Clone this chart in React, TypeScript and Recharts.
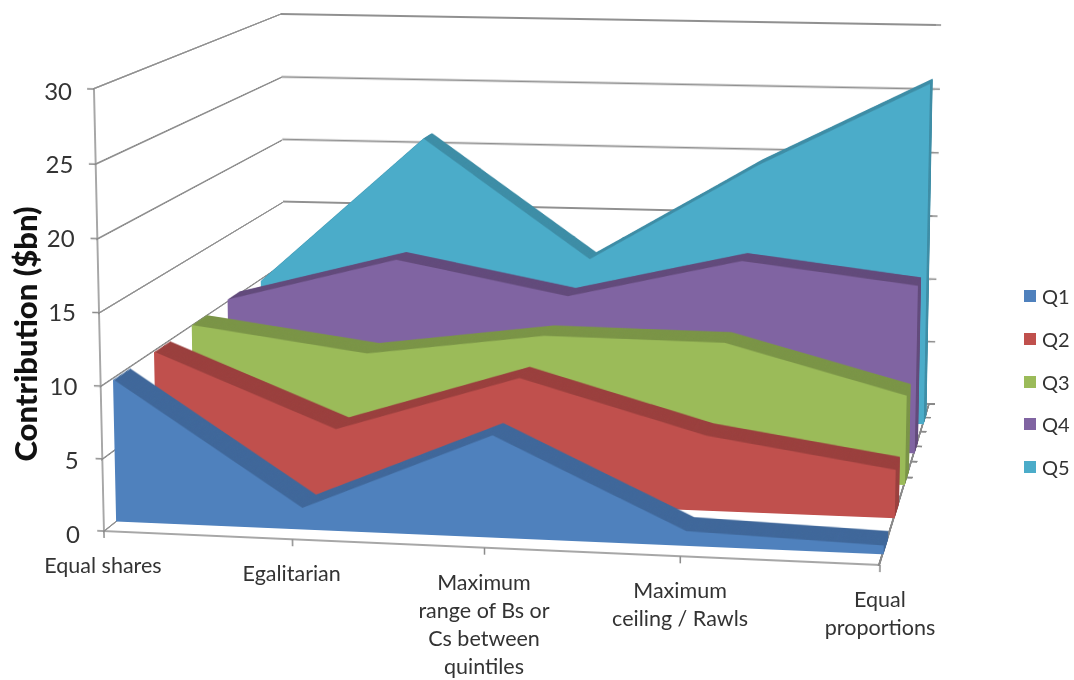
import { ReactNode } from 'react';
import { AreaChart, Area, XAxis, YAxis, CartesianGrid, Legend, LineChart, Line } from 'recharts';

const categories = ['Equal shares', 'Egalitarian', 'Maximum range of Bs or Cs between quintiles', 'Maximum ceiling / Rawls', 'Equal proportions'];
const categoryLines = [
  ['Equal shares'],
  ['Egalitarian'],
  ['Maximum', 'range of Bs or', 'Cs between', 'quintiles'],
  ['Maximum', 'ceiling / Rawls'],
  ['Equal', 'proportions'],
];
const seriesNames = ['Q1', 'Q2', 'Q3', 'Q4', 'Q5'];
const q1 = [9.9, 1.5, 7.0, 1.0, 0.6];
const q2 = [9.9, 4.8, 8.9, 5.3, 3.4];
const q3 = [10.0, 8.3, 10.0, 9.9, 6.5];
const q4 = [10.1, 13.5, 11.1, 14.1, 12.6];
const q5 = [9.8, 21.3, 12.2, 19.8, 26.3];
const valueTicks = [0, 5, 10, 15, 20, 25, 30];
const depthTicks = [0, 1, 2, 3, 4, 5];
const depthLabelHeights = [18, 54, 88, 119, 148];

const faceColors = ['#4f81bd', '#c0504d', '#9bbb59', '#8064a2', '#4bacc9'];
const topColors = ['#3f679a', '#9a3f3d', '#7a9446', '#624a7b', '#3d8da6'];

const table = categories.map((name, i) => ({
  name,
  Q1: q1[i],
  Q2: q2[i],
  Q3: q3[i],
  Q4: q4[i],
  Q5: q5[i],
}));

// the box of the 3d chart, as it lands on the page
type Pt = [number, number];
type Quad = [Pt, Pt, Pt, Pt]; // top left, top right, bottom right, bottom left
const FRONT: Quad = [[93, 89], [889, 106], [880, 566], [103, 532]];
const BACK: Quad = [[281, 14], [937, 25], [930, 404], [285, 386]];

const seriesDepth = [0.072, 0.295, 0.5, 0.695, 0.875];
const ribbonDepth = [0.09, 0.085, 0.08, 0.065, 0.055];
const RIBBON_STEPS = 14;
const M = 12;
const AXIS = '#8a8a8a';
const TEXT = '#333333';
const FONT = 'Lato, sans-serif';

const mix = (a: Pt, b: Pt, t: number): Pt => [a[0] + (b[0] - a[0]) * t, a[1] + (b[1] - a[1]) * t];
const planeAt = (d: number): Quad => FRONT.map((p, i) => mix(p, BACK[i], d)) as Quad;

// square to quad homography
function solve([p0, p1, p2, p3]: Quad) {
  const dx1 = p1[0] - p2[0], dx2 = p3[0] - p2[0], sx = p0[0] - p1[0] + p2[0] - p3[0];
  const dy1 = p1[1] - p2[1], dy2 = p3[1] - p2[1], sy = p0[1] - p1[1] + p2[1] - p3[1];
  const den = dx1 * dy2 - dx2 * dy1;
  const g = (sx * dy2 - dx2 * sy) / den;
  const k = (dx1 * sy - sx * dy1) / den;
  return {
    a: p1[0] - p0[0] + g * p1[0],
    b: p3[0] - p0[0] + k * p3[0],
    d: p1[1] - p0[1] + g * p1[1],
    e: p3[1] - p0[1] + k * p3[1],
    c: p0[0],
    f: p0[1],
    g,
    k,
  };
}

function toMatrix(quad: Quad, w: number, h: number) {
  const { a, b, c, d, e, f, g, k } = solve(quad);
  const m = [a / w, d / w, 0, g / w, b / h, e / h, 0, k / h, 0, 0, 1, 0, c, f, 0, 1];
  return `matrix3d(${m.join(',')})`;
}

// where a point along the front bottom edge lands
function frontBottom(u: number): Pt {
  const { a, b, c, d, e, f, g, k } = solve(FRONT);
  const w = g * u + k + 1;
  return [(a * u + b + c) / w, (d * u + e + f) / w];
}

function Plane({ quad, w, h, children }: { quad: Quad; w: number; h: number; children: ReactNode }) {
  return (
    <div style={{ position: 'absolute', left: 0, top: 0, width: w, height: h, transformOrigin: '0 0', transform: toMatrix(quad, w, h) }}>
      <div style={{ position: 'absolute', left: -M, top: -M }}>
        <AreaChart width={w + 2 * M} height={h + 2 * M} data={table} margin={{ top: M, right: M, bottom: M, left: M }}>
          {children}
        </AreaChart>
      </div>
    </div>
  );
}

const blank = () => '';
const axisStroke = { stroke: AXIS, strokeWidth: 1.5 };
const hiddenX = <XAxis dataKey="name" hide scale="point" padding={{ left: 0, right: 0 }} />;
const hiddenY = <YAxis hide domain={[0, 30]} ticks={valueTicks} />;
const gridLines = <CartesianGrid vertical={false} stroke="#909090" strokeWidth={1.8} />;
// axes need a series to get their domain, this one paints nothing
const unpainted = <Area dataKey="Q1" fill="none" stroke="none" dot={false} activeDot={false} isAnimationActive={false} />;

function SeriesRibbon({ index }: { index: number }) {
  const near = seriesDepth[index];
  const steps = Array.from({ length: RIBBON_STEPS + 1 }, (_, i) => RIBBON_STEPS - i);
  return (
    <>
      {steps.map((s) => (
        <Plane key={s} quad={planeAt(near + (ribbonDepth[index] * s) / RIBBON_STEPS)} w={750} h={440}>
          {hiddenX}
          {hiddenY}
          <Area
            dataKey={seriesNames[index]}
            type="linear"
            fill={s === 0 ? faceColors[index] : topColors[index]}
            fillOpacity={1}
            stroke="none"
            dot={false}
            activeDot={false}
            isAnimationActive={false}
          />
        </Plane>
      ))}
    </>
  );
}

const CategoryTick = ({ index }: any) => {
  const [x, y] = frontBottom(index / (categories.length - 1));
  return (
    <text textAnchor="middle" fontFamily={FONT} fontSize={21.5} fill={TEXT}>
      {categoryLines[index].map((line, i) => (
        <tspan key={line} x={x} y={y + 33 + i * 28} dominantBaseline="central">
          {line}
        </tspan>
      ))}
    </text>
  );
};

const ValueTick = ({ y, payload }: any) => (
  <text x={72 + (y - 89) * 0.018} y={y + 1} textAnchor="end" dominantBaseline="central" fontFamily={FONT} fontSize={24} fill={TEXT}>
    {payload.value}
  </text>
);

const DepthTick = ({ y, index }: any) => (
  <text x={917 + (548 - y) * 0.3} y={y} textAnchor="middle" dominantBaseline="central" fontFamily={FONT} fontSize={21} fill={TEXT}>
    {seriesNames[index]}
  </text>
);

const legendContent = () => (
  <div>
    {seriesNames.map((name, i) => (
      <div key={name} style={{ height: 42.7, display: 'flex', alignItems: 'center', fontFamily: FONT, fontSize: 20, color: TEXT }}>
        <span style={{ width: 12, height: 12, background: faceColors[i], marginRight: 6 }} />
        {name}
      </div>
    ))}
  </div>
);

const axisTitle = () => (
  <text transform="translate(25 334) rotate(-90)" textAnchor="middle" dominantBaseline="central" fontFamily={FONT} fontWeight={900} fontSize={31} fill="#111111">
    Contribution ($bn)
  </text>
);

export default function App() {
  return (
    <div style={{ position: 'absolute', left: 0, top: 0, width: 1074, height: 680, overflow: 'hidden', background: '#fff' }}>
      {/* back wall */}
      <Plane quad={BACK} w={650} h={380}>
        {hiddenX}
        <YAxis orientation="right" width={1} domain={[0, 30]} ticks={valueTicks} interval={0} axisLine={false} tickSize={5} tickLine={axisStroke} tickFormatter={blank} />
        {gridLines}
        {unpainted}
      </Plane>
      {/* side wall */}
      <Plane quad={[FRONT[0], BACK[0], BACK[3], FRONT[3]]} w={190} h={440}>
        {hiddenX}
        {hiddenY}
        {gridLines}
        {unpainted}
      </Plane>
      {/* floor, its right edge is the depth axis */}
      <Plane quad={[BACK[3], BACK[2], FRONT[2], FRONT[3]]} w={700} h={160}>
        {hiddenX}
        <YAxis orientation="right" width={1} domain={[0, 5]} reversed ticks={depthTicks} interval={0} tickSize={6} axisLine={{ stroke: AXIS, strokeWidth: 2 }} tickLine={{ stroke: AXIS, strokeWidth: 2 }} tickFormatter={blank} />
        {unpainted}
      </Plane>
      {[4, 3, 2, 1, 0].map((i) => (
        <SeriesRibbon key={seriesNames[i]} index={i} />
      ))}
      {/* front axes */}
      <Plane quad={FRONT} w={780} h={440}>
        <XAxis dataKey="name" scale="point" padding={{ left: 0, right: 0 }} height={1} interval={0} tickSize={7} axisLine={axisStroke} tickLine={axisStroke} tickFormatter={blank} />
        <YAxis width={1} domain={[0, 30]} ticks={valueTicks} interval={0} tickSize={7} axisLine={axisStroke} tickLine={axisStroke} tickFormatter={blank} />
        {unpainted}
      </Plane>
      {/* flat texts */}
      <div style={{ position: 'absolute', left: 0, top: 0 }}>
        <LineChart width={1074} height={680} data={table} margin={{ top: 89, right: 194, bottom: 88, left: 43 }}>
          <XAxis dataKey="name" scale="point" padding={{ left: 0, right: 0 }} height={60} interval={0} axisLine={false} tickLine={false} tick={CategoryTick} />
          <YAxis width={60} domain={[0, 30]} ticks={valueTicks} interval={0} axisLine={false} tickLine={false} tick={ValueTick} label={{ content: axisTitle }} />
          <Line dataKey="Q1" stroke="none" dot={false} activeDot={false} isAnimationActive={false} />
        </LineChart>
      </div>
      <div style={{ position: 'absolute', left: 0, top: 0 }}>
        <LineChart width={1074} height={680} data={table} margin={{ top: 404, right: 0, bottom: 114, left: 880 }}>
          <XAxis dataKey="name" hide />
          <YAxis width={0} domain={[0, 162]} ticks={depthLabelHeights} interval={0} axisLine={false} tickLine={false} tick={DepthTick} />
          <Line dataKey="Q1" stroke="none" dot={false} activeDot={false} isAnimationActive={false} />
        </LineChart>
      </div>
      <div style={{ position: 'absolute', left: 0, top: 0 }}>
        <LineChart width={1074} height={680} data={table}>
          <Legend layout="vertical" align="left" verticalAlign="top" content={legendContent} wrapperStyle={{ position: 'absolute', left: 1024, top: 275, width: 50 }} />
          <Line dataKey="Q1" stroke="none" dot={false} activeDot={false} isAnimationActive={false} />
        </LineChart>
      </div>
    </div>
  );
}
